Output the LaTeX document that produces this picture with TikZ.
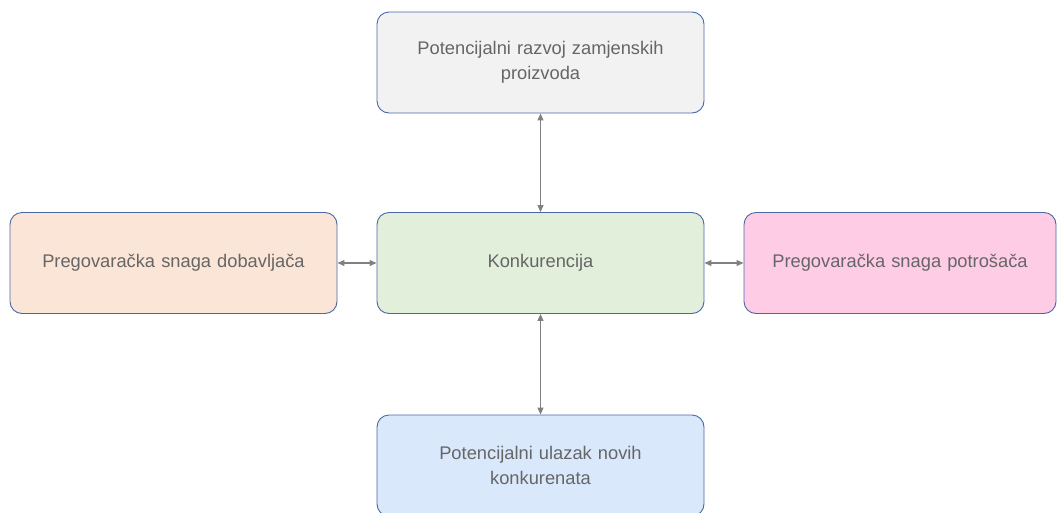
\documentclass[tikz,border=0pt]{standalone}
\usepackage{fontspec}
\setmainfont{Liberation Sans}
\usetikzlibrary{arrows.meta}
\definecolor{bordc}{HTML}{4A67A8}
\definecolor{txtc}{HTML}{666666}
\definecolor{arrc}{HTML}{808080}
\definecolor{fgray}{HTML}{F2F2F2}
\definecolor{fgreen}{HTML}{E2EFDA}
\definecolor{fpeach}{HTML}{FBE5D6}
\definecolor{fpink}{HTML}{FFCCE5}
\definecolor{fblue}{HTML}{DAE8FC}
\tikzset{
  box/.style={draw=bordc, line width=0.9pt, rounded corners=12pt, minimum width=327pt, minimum height=101pt, inner sep=0pt, text=txtc, font=\fontsize{18.3pt}{25pt}\selectfont, align=center, text width=300pt},
  conn/.style={draw=arrc, line width=1.1pt, {Triangle[length=7pt,width=6pt]}-{Triangle[length=7pt,width=6pt]}}
}
\begin{document}
\begin{tikzpicture}[x=1pt,y=-1pt]
\useasboundingbox (0,0) rectangle (1058,512);
\node[box, fill=fgray] (top) at (540.5,62.5) {Potencijalni razvoj zamjenskih\\proizvoda};
\node[box, fill=fgreen] (mid) at (540.5,263) {Konkurencija};
\node[box, fill=fpeach] (left) at (173.5,263) {Pregovaračka snaga dobavljača};
\node[box, fill=fpink, minimum width=312pt] (right) at (900,263) {Pregovaračka snaga potrošača};
\node[box, fill=fblue] (bot) at (540.5,465.5) {Potencijalni ulazak novih\\konkurenata};
\draw[conn] (top) -- (mid);
\draw[conn] (mid) -- (bot);
\draw[conn] (left) -- (mid);
\draw[conn] (mid) -- (right);
\end{tikzpicture}
\end{document}
